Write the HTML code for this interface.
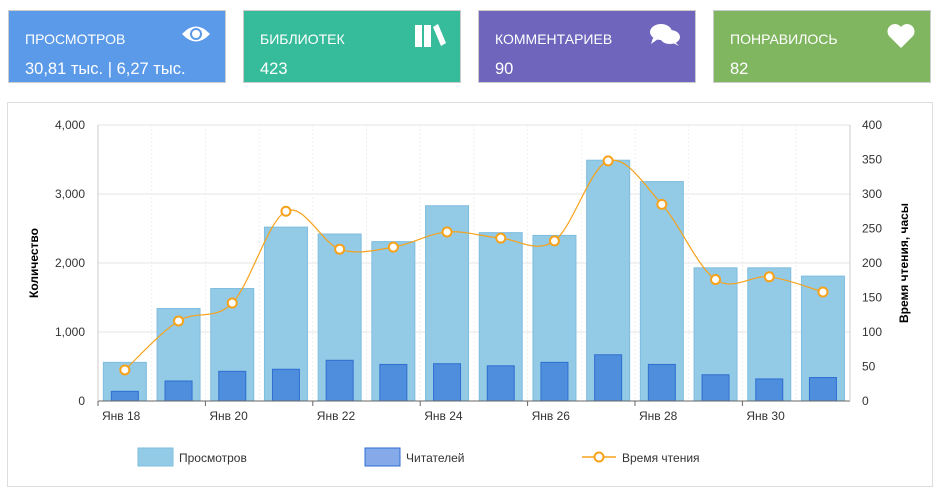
<!DOCTYPE html><html><head><meta charset="utf-8"><style>
body{margin:0;width:941px;height:493px;background:#fff;font-family:"Liberation Sans",sans-serif;position:relative;overflow:hidden}
.c{position:absolute;top:10px;width:218px;height:73px;border:1px solid #ccc;color:#fff;box-sizing:border-box}
.c .t{position:absolute;left:16px;top:20px;font-size:14px}
.c .v{position:absolute;left:16px;top:49px;font-size:16.5px}
.c svg{position:absolute;right:14px;top:12px}
.p{position:absolute;left:7px;top:102px;width:926px;height:385px;border:1px solid #ddd;box-sizing:border-box}
</style></head><body>
<div class="c" style="left:8px;background:#5b9ae8"><div class="t">ПРОСМОТРОВ</div><div class="v">30,81 тыс. | 6,27 тыс.</div>
<svg width="30" height="22" viewBox="0 0 30 22"><path d="M1 11 Q15 -4 29 11 Q15 26 1 11Z" fill="#fff"/><circle cx="15" cy="11" r="6" fill="#5b9ae8"/><circle cx="15" cy="11" r="4" fill="#fff"/></svg></div>
<div class="c" style="left:243px;background:#37bc9b"><div class="t">БИБЛИОТЕК</div><div class="v">423</div>
<svg width="32" height="24"><rect x="1" y="2" width="7" height="22" fill="#fff"/><rect x="10" y="2" width="7" height="22" fill="#fff"/><path d="M19 4 L24 1 L32 20 L27 23Z" fill="#fff"/></svg></div>
<div class="c" style="left:478px;background:#7065bd"><div class="t">КОММЕНТАРИЕВ</div><div class="v">90</div>
<svg width="32" height="24"><ellipse cx="12" cy="9" rx="11" ry="8" fill="#fff"/><ellipse cx="21" cy="14" rx="10" ry="7" fill="#fff"/><path d="M4 15 L2 21 L9 16Z M26 19 L30 23 L22 19Z" fill="#fff"/></svg></div>
<div class="c" style="left:713px;background:#81b661"><div class="t">ПОНРАВИЛОСЬ</div><div class="v">82</div>
<svg width="30" height="26"><path d="M15 25 L3 13 A7 7 0 0 1 15 4 A7 7 0 0 1 27 13Z" fill="#fff"/></svg></div>
<div class="p"></div>
<svg width="941" height="493" style="position:absolute;left:0;top:0" font-family="Liberation Sans,sans-serif">
<g id="g"></g></svg>
<script>
var g=document.getElementById('g'),s='';
var v=[560,1340,1630,2520,2420,2310,2830,2440,2400,3490,3180,1930,1930,1810],r=[140,290,430,460,590,530,540,510,560,670,530,380,320,340],t=[45,116,142,275,220,223,245,236,232,348,285,176,180,158];
var x0=98,w=53.7,y0=401,k=0.069;
for(var i=0;i<=4;i++){var y=y0-i*69;s+='<line x1="98" x2="850" y1="'+y+'" y2="'+y+'" stroke="#e6e6e6"/><text x="85" y="'+(y+4)+'" font-size="12" text-anchor="end" fill="#333">'+(i?i+',000':'0')+'</text><text x="862" y="'+(y+4)+'" font-size="12" fill="#333">'+i*100+'</text>';
s+='<text x="862" y="'+(y+4-34.5)+'" font-size="12" fill="#333" '+(i==4?'display="none"':'')+'>'+(i*100+50)+'</text>';}
for(var i=0;i<14;i++){var xl=x0+w*i;s+='<line x1="'+xl+'" x2="'+xl+'" y1="125" y2="401" stroke="#eee" stroke-dasharray="2,2"/>';}
for(var i=0;i<14;i++){var cx=x0+w*i+w/2;s+='<rect x="'+(cx-21.5)+'" y="'+(y0-v[i]*k)+'" width="43" height="'+v[i]*k+'" fill="#93cae5" stroke="#7fbde0"/>';
s+='<rect x="'+(cx-13.5)+'" y="'+(y0-r[i]*k)+'" width="27" height="'+r[i]*k+'" fill="#4f8edc" stroke="#2f6fd0"/>';}
var P=[];for(var i=0;i<14;i++)P.push([x0+w*i+w/2,y0-t[i]*0.69]);
var p='M'+P[0][0]+' '+P[0][1];
for(var i=0;i<13;i++){var a=P[i-1]||P[i],b=P[i],c=P[i+1],d=P[i+2]||c,f=0.5/3;
p+=' C'+(b[0]+(c[0]-a[0])*f)+' '+(b[1]+(c[1]-a[1])*f)+' '+(c[0]-(d[0]-b[0])*f)+' '+(c[1]-(d[1]-b[1])*f)+' '+c[0]+' '+c[1];}
s+='<path d="'+p+'" fill="none" stroke="#f7a21b" stroke-width="1.2"/>';
for(var i=0;i<14;i++)s+='<circle cx="'+P[i][0]+'" cy="'+P[i][1]+'" r="4.5" fill="#fff" stroke="#f7a21b" stroke-width="2"/>';
s+='<line x1="98" x2="850" y1="401" y2="401" stroke="#666"/><line x1="98" x2="98" y1="125" y2="401" stroke="#ccc"/><line x1="850" x2="850" y1="125" y2="401" stroke="#ccc"/>';
for(var i=0;i<7;i++){var xt=x0+w*2*i;s+='<line x1="'+xt+'" x2="'+xt+'" y1="401" y2="406" stroke="#666"/><text x="'+(xt+4)+'" y="420" font-size="12" fill="#333">Янв '+(18+2*i)+'</text>';}
s+='<text transform="translate(38,263) rotate(-90)" font-size="12" font-weight="bold" text-anchor="middle">Количество</text>';
s+='<text transform="translate(908,263) rotate(-90)" font-size="12" font-weight="bold" text-anchor="middle">Время чтения, часы</text>';
s+='<rect x="138" y="448" width="35" height="18" fill="#93cae5" stroke="#7fbde0"/><text x="179" y="462" font-size="12" fill="#333">Просмотров</text>';
s+='<rect x="365" y="448" width="35" height="18" fill="#86a9ea" stroke="#2f6fd0"/><text x="406" y="462" font-size="12" fill="#333">Читателей</text>';
s+='<line x1="582" x2="616" y1="457" y2="457" stroke="#f7a21b" stroke-width="1.5"/><circle cx="599" cy="457" r="4.5" fill="#fff" stroke="#f7a21b" stroke-width="2"/><text x="622" y="462" font-size="12" fill="#333">Время чтения</text>';
g.innerHTML=s;
</script>
</body></html>
